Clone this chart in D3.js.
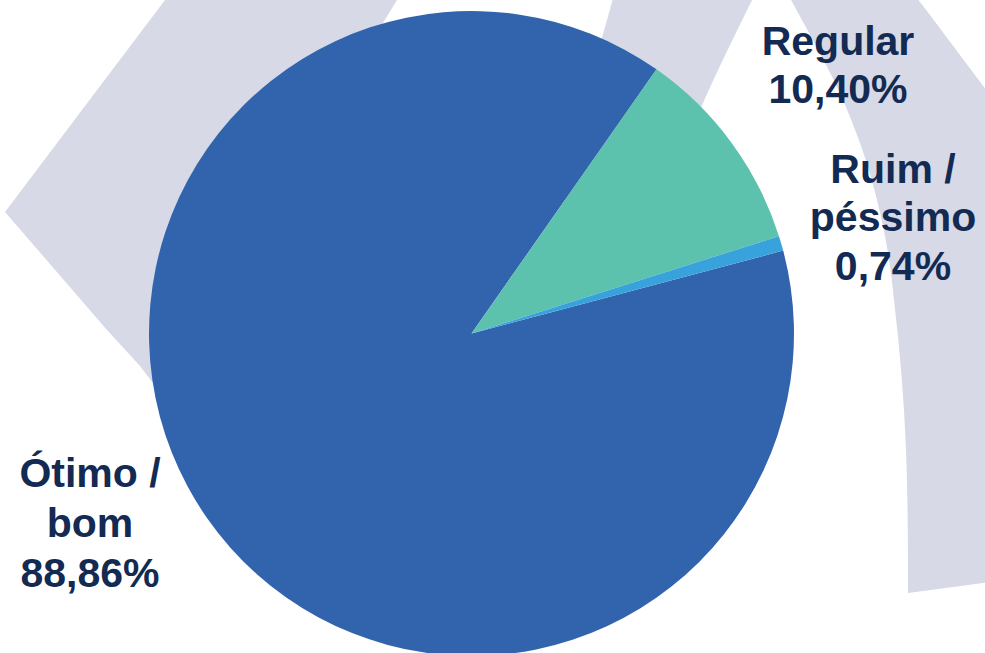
<!DOCTYPE html>
<html>
<head>
<meta charset="utf-8">
<script src="https://cdn.jsdelivr.net/npm/d3@7"></script>
<style>
  html, body { margin: 0; padding: 0; background: #ffffff; }
  svg { display: block; }
</style>
</head>
<body>
<svg id="chart" width="985" height="653"></svg>
<script>
// ---- data ----
const categories = ["Ótimo / bom", "Regular", "Ruim / péssimo"];
const values = [88.86, 10.40, 0.74];
const labelNames = [["Ótimo /", "bom"], ["Regular"], ["Ruim /", "péssimo"]];
const colors = ["#3264ae", "#5cc2ad", "#38a2dc"];

// ---- layout ----
const W = 985, H = 653;
const cx = 471.5, cy = 333.5, R = 322.5;
// Regular slice begins at ~35° clockwise from 12 o'clock
const regularStartDeg = 35;
const labelLayout = [
  { x: 90,  y: 487,   lh: 50 },
  { x: 838, y: 55,    lh: 47.5 },
  { x: 893, y: 182.7, lh: 48.7 }
];

const svg = d3.select("#chart");

// ---- watermark background (decoration) ----
const wm = svg.append("g").attr("fill", "#d7d9e6");
// left chevron
wm.append("path").attr("d",
  "M165,0 L397,0 L330,110 L260,300 L230,460 L200,445 L140,366 L107,330 L5,212 Z");
// arch: left leg
wm.append("path").attr("d",
  "M613,-2 L753,-2 C735,35 715,75 700,110 L660,200 L560,200 L590,80 C598,50 606,25 613,-2 Z");
// arch: right leg
wm.append("path").attr("d",
  "M790,-2 C810,35 830,70 843,100 C860,140 870,170 877,200 C887,240 891,270 894,300 " +
  "C900,350 904,400 906,450 C908,500 908,550 908,593 L990,582 L990,95 C960,55 940,28 917,-2 Z");

// ---- pie ----
const fmt = d3.formatLocale({ decimal: ",", thousands: ".", grouping: [3], currency: ["R$", ""] }).format(".2f");
const a0 = (regularStartDeg / 360 - values[0] / 100) * 2 * Math.PI;
const pie = d3.pie().sort(null).value(d => d).startAngle(a0).endAngle(a0 + 2 * Math.PI);
const arc = d3.arc().innerRadius(0).outerRadius(R);
const arcs = pie(values);

const g = svg.append("g").attr("transform", `translate(${cx},${cy})`);
g.selectAll("path.slice")
  .data(arcs)
  .join("path")
  .attr("class", "slice")
  .attr("d", arc)
  .attr("fill", (d, i) => colors[i]);

// ---- labels ----
const labels = svg.append("g")
  .attr("font-family", "'Liberation Sans', Arial, Helvetica, sans-serif")
  .attr("font-weight", "bold")
  .attr("font-size", 41)
  .attr("fill", "#132a52")
  .attr("text-anchor", "middle");

categories.forEach((c, i) => {
  const L = labelLayout[i];
  const lines = labelNames[i].concat([fmt(values[i]) + "%"]);
  const t = labels.append("text").attr("x", L.x).attr("y", L.y);
  lines.forEach((ln, j) => {
    t.append("tspan").attr("x", L.x).attr("dy", j === 0 ? 0 : L.lh).text(ln);
  });
});
</script>
</body>
</html>
